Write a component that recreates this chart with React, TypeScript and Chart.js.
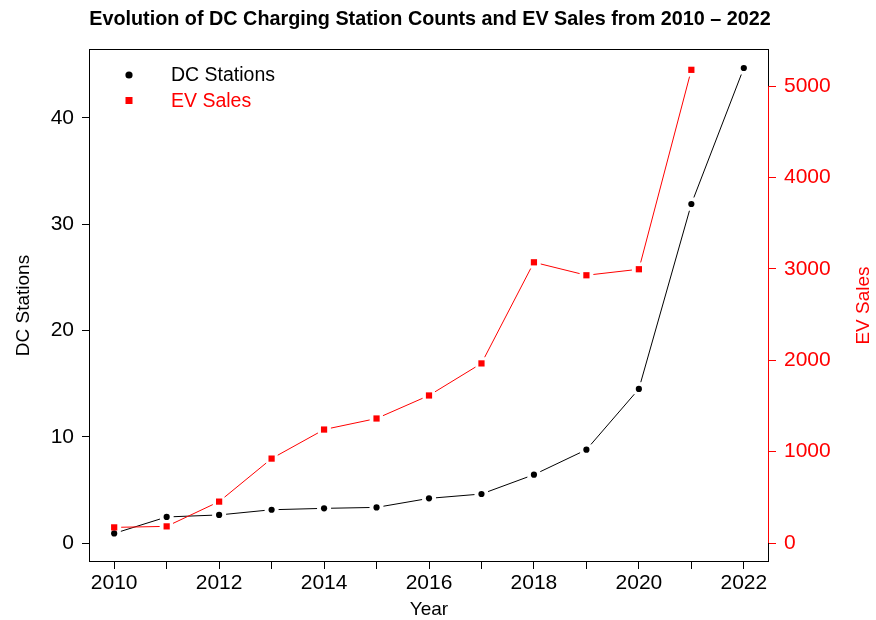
import { useEffect, useRef } from 'react';
import { Chart, registerables } from 'chart.js';

Chart.register(...registerables);

const years = [2010, 2011, 2012, 2013, 2014, 2015, 2016, 2017, 2018, 2019, 2020, 2021, 2022];
const dcStations = [0.9, 2.45, 2.64, 3.13, 3.26, 3.35, 4.2, 4.61, 6.43, 8.78, 14.5, 31.9, 44.7];
const evSales: (number | null)[] = [171, 182, 453, 924, 1242, 1363, 1615, 1966, 3073, 2931, 2997, 5180, null];
const xTicks = years;
const leftTicks = [0, 10, 20, 30, 40];
const rightTicks = [0, 1000, 2000, 3000, 4000, 5000];

const TITLE = 'Evolution of DC Charging Station Counts and EV Sales from 2010 – 2022';
const FONT = '"Liberation Sans", Arial, Helvetica, sans-serif';

const decorPlugin = {
  id: 'decor',
  beforeDatasetsDraw(chart: any) {
    const { ctx, chartArea: a, scales } = chart;
    ctx.save();
    // box
    ctx.strokeStyle = '#000';
    ctx.lineWidth = 1;
    ctx.strokeRect(Math.round(a.left) + 0.5, Math.round(a.top) + 0.5, Math.round(a.right - a.left) - 1, Math.round(a.bottom - a.top) - 1);
    // red right axis line
    const y1 = scales.y1;
    const xr = Math.round(a.right) - 0.5;
    ctx.strokeStyle = '#ff0000';
    ctx.beginPath();
    ctx.moveTo(xr, y1.getPixelForValue(rightTicks[0]));
    ctx.lineTo(xr, y1.getPixelForValue(rightTicks[rightTicks.length - 1]));
    ctx.stroke();
    // connecting lines with gaps around points (R type = "b")
    const gap = 7;
    const order = [1, 0];
    order.forEach((di) => {
      const meta = chart.getDatasetMeta(di);
      const ds = chart.data.datasets[di];
      ctx.strokeStyle = ds.lineColor;
      ctx.lineWidth = 1;
      const pts = meta.data;
      for (let i = 0; i < pts.length - 1; i++) {
        const p = pts[i];
        const q = pts[i + 1];
        if (!p || !q || p.skip || q.skip) continue;
        const dx = q.x - p.x;
        const dy = q.y - p.y;
        const len = Math.sqrt(dx * dx + dy * dy);
        if (len <= 2 * gap) continue;
        const ux = dx / len;
        const uy = dy / len;
        ctx.beginPath();
        ctx.moveTo(p.x + ux * gap, p.y + uy * gap);
        ctx.lineTo(q.x - ux * gap, q.y - uy * gap);
        ctx.stroke();
      }
    });
    ctx.restore();
  },
  afterDraw(chart: any) {
    const { ctx, chartArea: a } = chart;
    ctx.save();
    // main title
    ctx.fillStyle = '#000';
    ctx.font = `bold 19.8px ${FONT}`;
    ctx.textAlign = 'center';
    ctx.textBaseline = 'alphabetic';
    ctx.fillText(TITLE, (a.left + a.right) / 2 + 1, 24.5);
    // legend
    ctx.font = `19.5px ${FONT}`;
    ctx.textAlign = 'left';
    ctx.textBaseline = 'middle';
    ctx.beginPath();
    ctx.arc(129, 75, 3.6, 0, Math.PI * 2);
    ctx.fill();
    ctx.fillText('DC Stations', 171, 76);
    ctx.fillStyle = '#ff0000';
    ctx.fillRect(125.5, 97, 7, 7);
    ctx.fillText('EV Sales', 171, 102);
    // right axis title
    ctx.translate(869, (a.top + a.bottom) / 2);
    ctx.rotate(-Math.PI / 2);
    ctx.font = `19px ${FONT}`;
    ctx.textAlign = 'center';
    ctx.textBaseline = 'alphabetic';
    ctx.fillText('EV Sales', 0, 0);
    ctx.restore();
  },
};

export default function App() {
  const ref = useRef<HTMLCanvasElement | null>(null);

  useEffect(() => {
    if (!ref.current) return;
    const dcData = dcStations.map((v, i) => ({ x: years[i], y: v }));
    const evData = evSales.map((v, i) => ({ x: years[i], y: v }));
    const chart = new Chart(ref.current, {
      type: 'line',
      data: {
        datasets: [
          {
            label: 'EV Sales',
            data: evData as any,
            yAxisID: 'y1',
            showLine: false,
            pointStyle: 'rect',
            pointRadius: 4.4,
            pointBorderWidth: 0,
            pointBackgroundColor: '#ff0000',
            borderColor: '#ff0000',
            lineColor: '#ff0000',
          } as any,
          {
            label: 'DC Stations',
            data: dcData as any,
            yAxisID: 'y',
            showLine: false,
            pointStyle: 'circle',
            pointRadius: 3.1,
            pointBorderWidth: 0,
            pointBackgroundColor: '#000',
            borderColor: '#000',
            lineColor: '#000',
          } as any,
        ],
      },
      options: {
        animation: false,
        responsive: false,
        events: [],
        layout: { padding: { top: 49, left: 0, right: 0, bottom: 0 } },
        plugins: {
          legend: { display: false },
          tooltip: { enabled: false },
          title: { display: false },
        },
        scales: {
          x: {
            type: 'linear',
            position: 'bottom',
            min: 2009.52,
            max: 2022.48,
            afterBuildTicks: (s: any) => {
              s.ticks = xTicks.map((v) => ({ value: v }));
            },
            afterFit: (s: any) => {
              s.height = 58;
            },
            ticks: {
              autoSkip: false,
              maxRotation: 0,
              minRotation: 0,
              padding: 2,
              color: '#000',
              font: { family: FONT, size: 21 },
              callback: (v: any) => (Number(v) % 2 === 0 ? String(v) : ''),
            },
            grid: { drawOnChartArea: false, drawTicks: true, tickLength: 7, color: '#000', lineWidth: 1 },
            border: { display: false },
            title: {
              display: true,
              text: 'Year',
              color: '#000',
              font: { family: FONT, size: 19 },
              padding: { top: 0, bottom: -1 },
            },
          },
          y: {
            type: 'linear',
            position: 'left',
            min: -1.788,
            max: 46.488,
            afterBuildTicks: (s: any) => {
              s.ticks = leftTicks.map((v) => ({ value: v }));
            },
            afterFit: (s: any) => {
              s.width = 89;
            },
            ticks: {
              padding: 8,
              color: '#000',
              font: { family: FONT, size: 21 },
              callback: (v: any) => String(v),
            },
            grid: { drawOnChartArea: false, drawTicks: true, tickLength: 7, color: '#000', lineWidth: 1 },
            border: { display: false },
            title: {
              display: true,
              text: 'DC Stations',
              color: '#000',
              font: { family: FONT, size: 19 },
              padding: { top: 12, bottom: 0 },
            },
          },
          y1: {
            type: 'linear',
            position: 'right',
            min: -208,
            max: 5408,
            afterBuildTicks: (s: any) => {
              s.ticks = rightTicks.map((v) => ({ value: v }));
            },
            afterFit: (s: any) => {
              s.width = 107;
            },
            ticks: {
              padding: 8,
              color: '#ff0000',
              font: { family: FONT, size: 21 },
              callback: (v: any) => String(v),
            },
            grid: { drawOnChartArea: false, drawTicks: true, tickLength: 7, color: '#ff0000', lineWidth: 1 },
            border: { display: false },
            title: { display: false },
          },
        },
      } as any,
      plugins: [decorPlugin],
    });
    return () => chart.destroy();
  }, []);

  return (
    <div style={{ position: 'fixed', left: 0, top: 0, width: 876, height: 620, background: '#fff' }}>
      <canvas ref={ref} width={876} height={620} style={{ display: 'block', width: 876, height: 620 }} />
    </div>
  );
}
